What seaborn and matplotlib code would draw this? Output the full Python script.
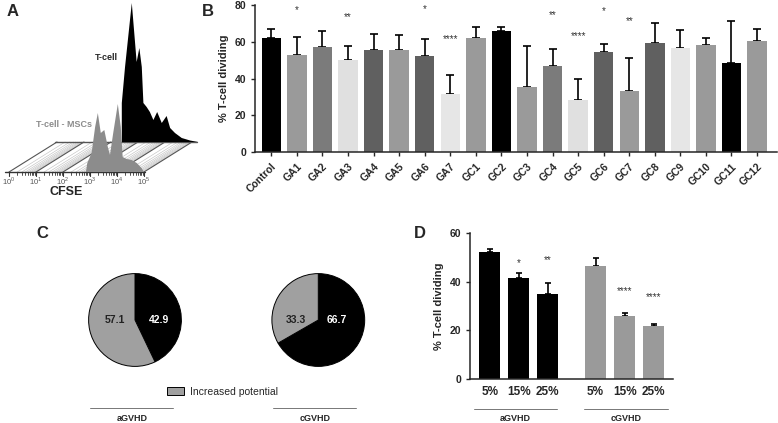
import numpy as np
import pandas as pd
import seaborn as sns
import matplotlib.pyplot as plt
from matplotlib.lines import Line2D
from matplotlib.patches import Patch

sns.set_style('ticks')
plt.rcParams['font.family'] = ['Liberation Sans', 'DejaVu Sans']
plt.rcParams['mathtext.fontset'] = 'custom'
plt.rcParams['mathtext.rm'] = 'Liberation Sans'
plt.rcParams['mathtext.bf'] = 'Liberation Sans:bold'

# ---- panel A: CFSE histograms (log10 position, height)
tcell_log = [2.40, 2.40, 2.52, 2.77, 2.95, 3.05, 3.14, 3.20, 3.32, 3.44, 3.57, 3.71,
             3.88, 4.06, 4.19, 4.37, 4.62, 4.93, 5.22]
tcell_count = [0, 39, 75, 139, 80, 94, 75, 39, 35, 30, 22, 30, 19, 26, 14, 9, 4, 1.5, 0]
msc_log = [2.85, 2.90, 3.06, 3.19, 3.29, 3.40, 3.53, 3.66, 3.74, 3.86, 4.03, 4.14,
           4.21, 4.36, 4.54, 4.73, 4.91, 5.00]
msc_count = [0, 9, 19, 45, 59, 39, 42, 25, 17, 39, 68, 45, 15, 13, 12, 9, 4, 0]
decades = [0, 1, 2, 3, 4, 5]

# ---- panel B
groups = ['Control', 'GA1', 'GA2', 'GA3', 'GA4', 'GA5', 'GA6', 'GA7', 'GC1', 'GC2',
          'GC3', 'GC4', 'GC5', 'GC6', 'GC7', 'GC8', 'GC9', 'GC10', 'GC11', 'GC12']
pct_mean = [61.9, 52.9, 57.4, 50.1, 55.6, 55.6, 52.5, 31.5, 62.1, 65.7,
            35.6, 46.7, 28.4, 54.5, 33.3, 59.5, 56.7, 58.1, 48.3, 60.6]
pct_upper = [67.1, 62.5, 65.7, 57.7, 64.4, 63.7, 61.4, 42.2, 67.9, 67.9,
             57.9, 56.1, 39.8, 58.7, 51.4, 70.1, 66.3, 62.3, 71.2, 66.7]
bar_colors = ['#000000', '#9a9a9a', '#7b7b7b', '#e0e0e0', '#606060', '#9a9a9a', '#606060',
              '#e6e6e6', '#9a9a9a', '#000000', '#9a9a9a', '#7b7b7b', '#e0e0e0', '#606060',
              '#9a9a9a', '#606060', '#e6e6e6', '#9a9a9a', '#000000', '#9a9a9a']
sig_groups = ['GA1', 'GA3', 'GA6', 'GA7', 'GC4', 'GC5', 'GC6', 'GC7']
sig_marks = ['*', '**', '*', '****', '**', '****', '*', '**']
sig_y = [77.3, 73.7, 77.7, 61.4, 74.6, 63.2, 76.7, 71.3]

# ---- panel C
pie_groups = ['aGVHD', 'cGVHD']
pie_black = [42.9, 66.7]
pie_gray = [57.1, 33.3]

# ---- panel D
d_groups = ['aGVHD', 'aGVHD', 'aGVHD', 'cGVHD', 'cGVHD', 'cGVHD']
d_doses = ['5%', '15%', '25%', '5%', '15%', '25%']
d_mean = [52.2, 41.7, 35.1, 46.5, 25.9, 22.0]
d_upper = [53.4, 43.7, 39.5, 49.8, 27.0, 22.5]
d_sig = ['', '*', '**', '', '****', '****']
d_sig_y = [0, 47.8, 49.0, 0, 36.4, 33.9]

W, H = 778, 423
fig = plt.figure(figsize=(W / 100, H / 100), dpi=100)


def rect(x0, y0, x1, y1):
    # pixel box -> figure fraction
    return [x0 / W, 1 - y1 / H, (x1 - x0) / W, (y1 - y0) / H]


bold = dict(fontweight='bold')

# ================= A
axA = fig.add_axes(rect(0, 0, 205, 185))
axA.set_xlim(-9 / 27, 196 / 27)
axA.set_ylim(-13, 172)
axA.axis('off')
dx, dy = 48 / 27, 30
ticks = []
for d in decades[:-1]:
    ticks += [d + np.log10(k) for k in range(2, 10)]
for t in ticks:
    axA.plot([t, t + dx], [0, dy], color='#c8c8c8', lw=0.5, zorder=1)
    axA.plot([t, t], [0, -2.5], color='#333333', lw=0.6, zorder=2)
for t in decades:
    axA.plot([t, t + dx], [0, dy], color='#555555', lw=0.8, zorder=1)
    axA.plot([t, t], [0, -4], color='#333333', lw=0.8, zorder=2)
    axA.text(t, -9, r'$10^{%d}$' % t, ha='center', va='center', fontsize=5.5, color='#555555')
axA.plot([-0.15, 5.05], [0, 0], color='#333333', lw=1.0, zorder=2)
axA.plot([-0.07 + dx, 5.2 + dx], [dy, dy], color='#555555', lw=1.0, zorder=2)
axA.fill(np.array(tcell_log) + dx, np.array(tcell_count) + dy, color='black', lw=0, zorder=3)
axA.fill(msc_log, msc_count, color='#8c8c8c', lw=0, zorder=4)
axA.text((106 - 9) / 27, 172 - 57, 'T-cell', ha='center', va='center', fontsize=6.5, **bold)
axA.text((64 - 9) / 27, 172 - 124, 'T-cell - MSCs', ha='center', va='center', fontsize=6.5,
         color='#8c8c8c', **bold)
axA.text((66 - 9) / 27, 172 - 192, 'CFSE', ha='center', va='center', fontsize=9, **bold)
fig.text(7 / W, 1 - 11 / H, 'A', fontsize=12, va='center', ha='left', **bold)

# ================= B
axB = fig.add_axes(rect(255, 5, 777, 152.3))
sns.barplot(x=groups, y=pct_mean, hue=groups, palette=bar_colors, legend=False,
            width=0.76, saturation=1, ax=axB, linewidth=0, zorder=2)
xb = np.arange(len(groups))
axB.errorbar(xb, pct_mean, yerr=[np.zeros(len(xb)), np.array(pct_upper) - np.array(pct_mean)],
             fmt='none', ecolor='black', elinewidth=1.2, capsize=2.9, capthick=1.2, zorder=1)
for g, m, y in zip(sig_groups, sig_marks, sig_y):
    axB.text(groups.index(g), y, m, ha='center', va='center', fontsize=7, color='#333333')
axB.set_xlim(-0.64, 19.78)
axB.set_ylim(0, 80)
axB.set_yticks([0, 20, 40, 60, 80])
axB.set_ylabel('% T-cell dividing', fontsize=8, **bold)
axB.set_xlabel('')
axB.tick_params(axis='x', labelrotation=45, labelsize=7.5, length=3, width=1)
axB.tick_params(axis='y', labelsize=7.5, length=3, width=1)
for lab in axB.get_xticklabels():
    lab.set_ha('right')
    lab.set_rotation_mode('anchor')
    lab.set_fontweight('bold')
for lab in axB.get_yticklabels():
    lab.set_fontweight('bold')
sns.despine(ax=axB)
for s in ['left', 'bottom']:
    axB.spines[s].set_linewidth(1.1)
    axB.spines[s].set_zorder(3)
fig.text(202 / W, 1 - 11 / H, 'B', fontsize=12, va='center', ha='left', **bold)

# ================= C
centers = [135, 318.3]
lab_off = [(0.52, -0.43), (0.40, -0.49)]
for cx, g, b, gr, off in zip(centers, pie_groups, pie_black, pie_gray, lab_off):
    axP = fig.add_axes(rect(cx - 58, 262, cx + 58, 378))
    axP.pie([b, gr], colors=['black', '#a0a0a0'], startangle=90, counterclock=False,
            wedgeprops=dict(edgecolor='black', linewidth=0.7))
    axP.set_aspect('equal')
    axP.text(off[0], 0, f'{b:.1f}', color='white', ha='center', va='center', fontsize=7.5, **bold)
    axP.text(off[1], 0, f'{gr:.1f}', color='#222222', ha='center', va='center', fontsize=7.5, **bold)
    fig.add_artist(Line2D([(cx - 45) / W, (cx + 38) / W], [1 - 408 / H] * 2,
                          color='#777777', lw=0.7))
    fig.text((cx - 3) / W, 1 - 418 / H, g, ha='center', va='center', fontsize=6.5, **bold)
fig.legend(handles=[Patch(facecolor='#a0a0a0', edgecolor='black', linewidth=0.7)],
           labels=['Increased potential'], loc='center left', frameon=False,
           bbox_to_anchor=(162 / W, 1 - 391.5 / H), fontsize=7.5, handlelength=1.6,
           handleheight=0.8, handletextpad=0.6, borderpad=0)
fig.text(36 / W, 1 - 233 / H, 'C', fontsize=12, va='center', ha='left', **bold)

# ================= D
gap = 0.65
d_pos = [i + gap * (pie_groups.index(g)) for i, g in enumerate(d_groups)]
axD = fig.add_axes(rect(470, 233.3, 673.3, 379))
sns.barplot(x=d_pos, y=d_mean, hue=d_groups, palette=['black', '#9a9a9a'], native_scale=True,
            dodge=False, width=0.71, saturation=1, legend=False, ax=axD, linewidth=0, zorder=2)
axD.errorbar(d_pos, d_mean, yerr=[np.zeros(6), np.array(d_upper) - np.array(d_mean)],
             fmt='none', ecolor='black', elinewidth=1.2, capsize=2.5, capthick=1.2, zorder=1)
for p, m, y in zip(d_pos, d_sig, d_sig_y):
    if m:
        axD.text(p, y, m, ha='center', va='center', fontsize=7, color='#333333')
axD.set_xlim(-0.68, 6.33)
axD.set_ylim(0, 60)
axD.set_yticks([0, 20, 40, 60])
axD.set_xticks(d_pos)
axD.set_xticklabels(d_doses)
axD.set_ylabel('% T-cell dividing', fontsize=8, **bold)
axD.set_xlabel('')
axD.tick_params(axis='x', length=0, labelsize=8.5, pad=5)
axD.tick_params(axis='y', labelsize=7.5, length=3, width=1)
for lab in axD.get_xticklabels() + axD.get_yticklabels():
    lab.set_fontweight('bold')
sns.despine(ax=axD)
for s in ['left', 'bottom']:
    axD.spines[s].set_linewidth(1.1)
    axD.spines[s].set_zorder(3)
for g, x0, x1 in [('aGVHD', 474, 557.3), ('cGVHD', 584.3, 667.7)]:
    fig.add_artist(Line2D([x0 / W, x1 / W], [1 - 409 / H] * 2, color='#777777', lw=0.7))
    fig.text((x0 + x1) / 2 / W, 1 - 418 / H, g, ha='center', va='center', fontsize=6.5, **bold)
fig.text(414 / W, 1 - 233 / H, 'D', fontsize=12, va='center', ha='left', **bold)

fig.savefig('out.png', dpi=100)
